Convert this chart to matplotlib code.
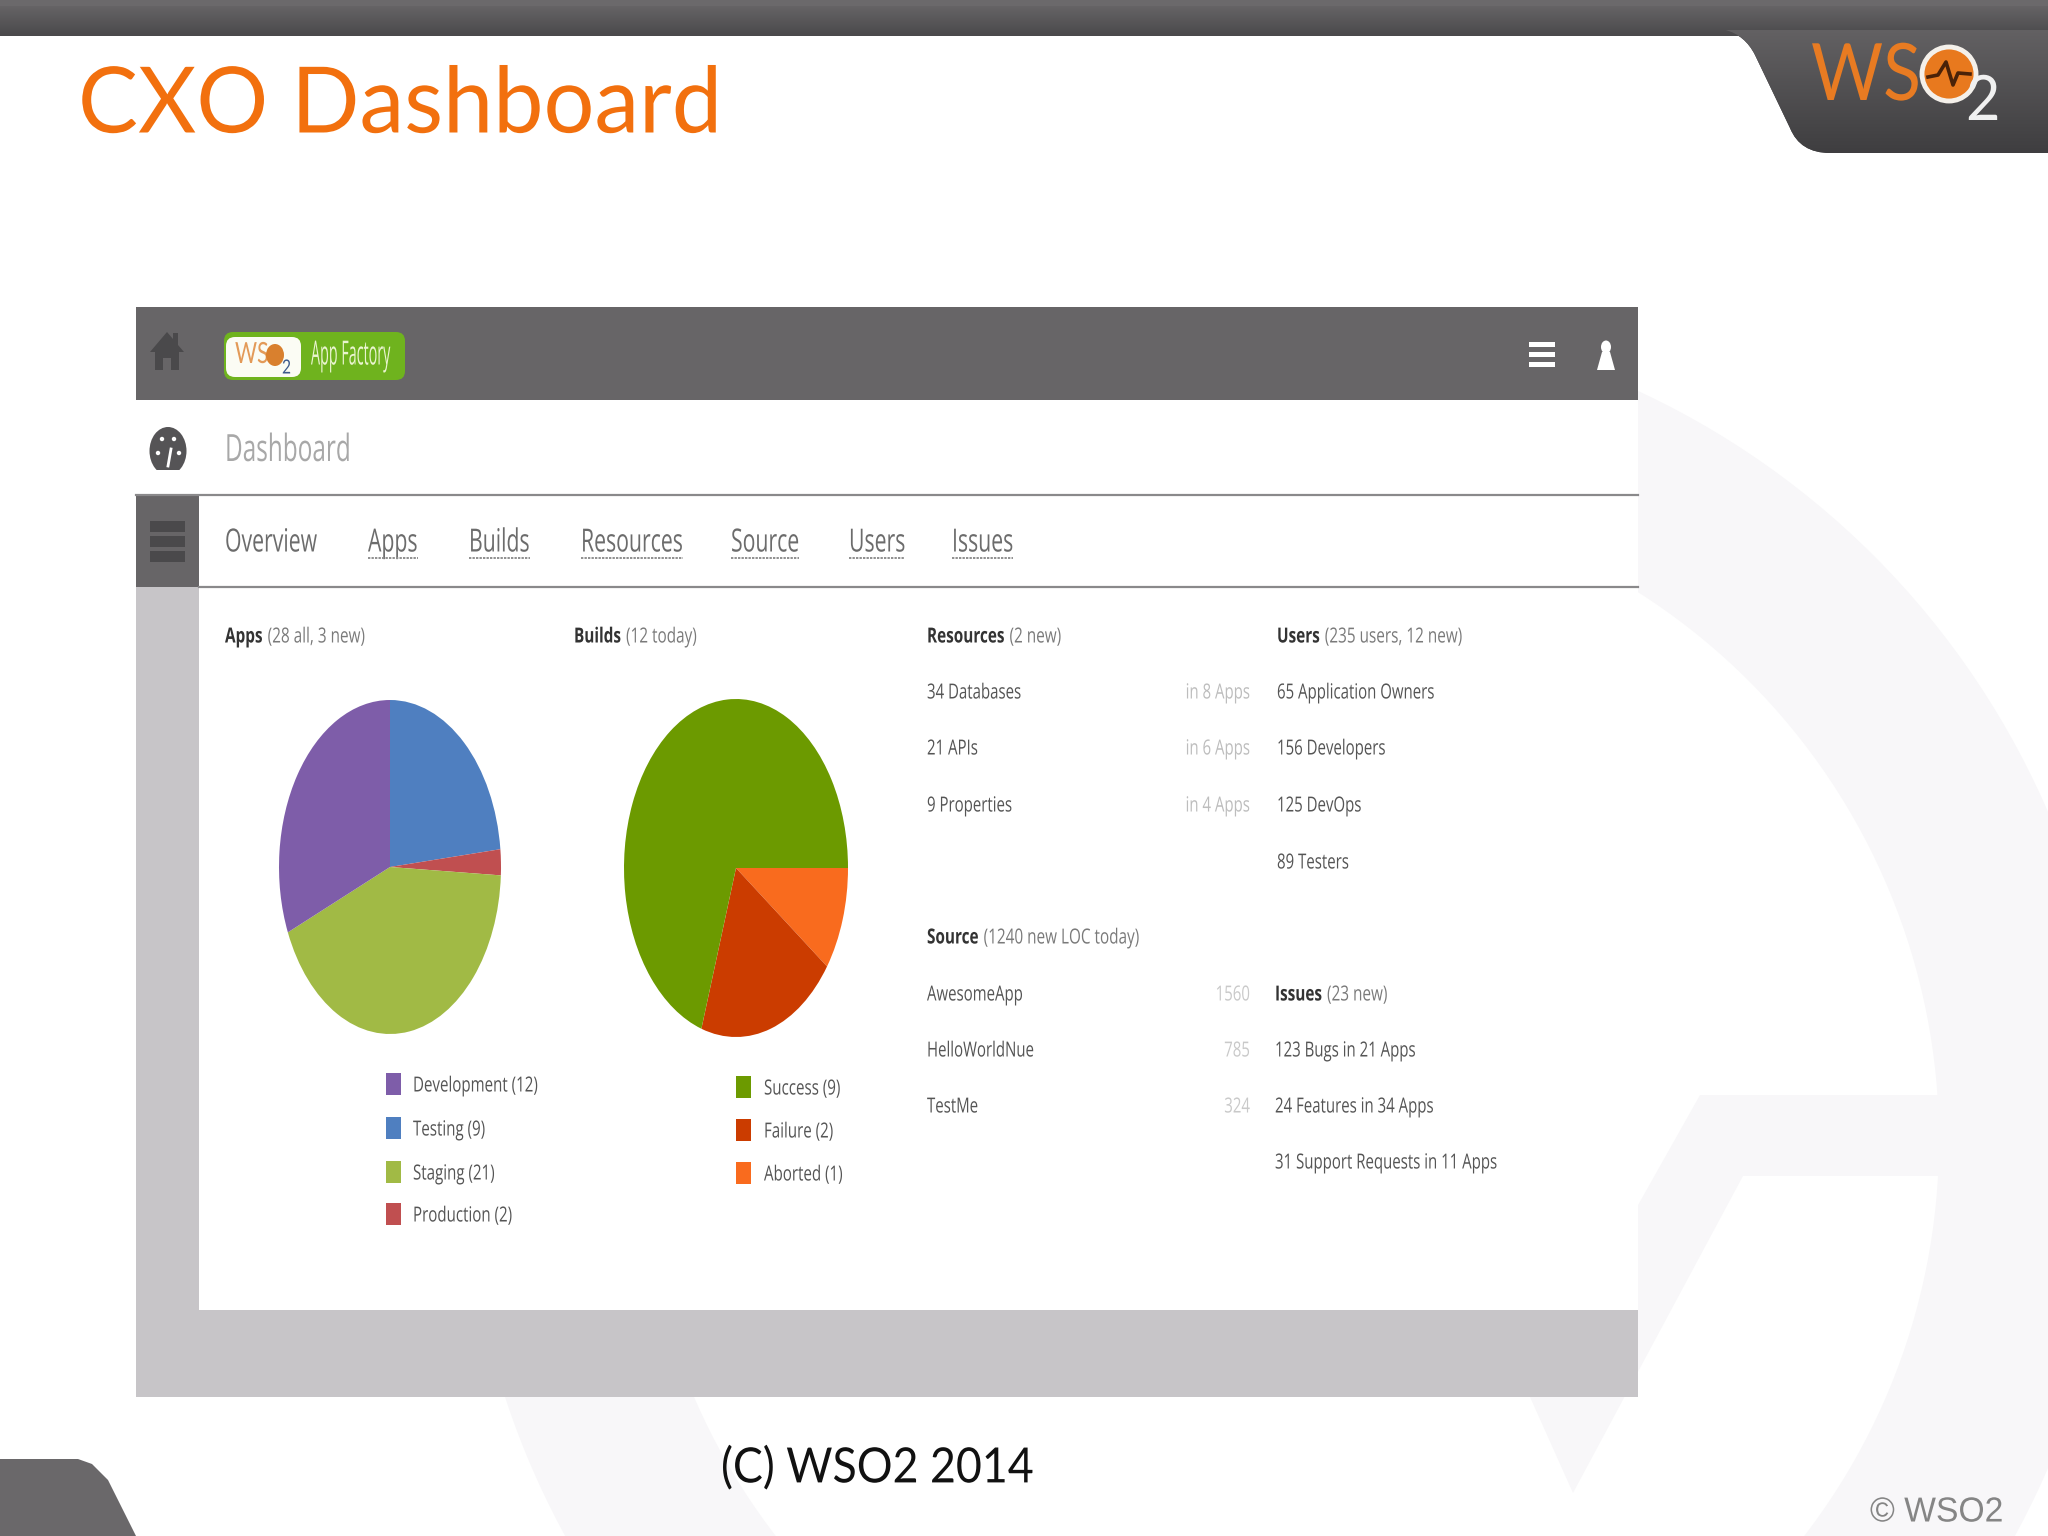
"""
CXO Dashboard - slajd WSO2 z dwoma wykresami kolowymi.
"""

import matplotlib
matplotlib.use("Agg")
import matplotlib.pyplot as plt
import matplotlib.patches as mpatches
import matplotlib.patheffects as pe
from matplotlib.path import Path
from matplotlib.transforms import Affine2D
import numpy as np

W, H = 2048, 1536

# Dane (kolejnosc wycinkow zgodnie z ruchem wskazowek)
apps_slices = ["Testing", "Production", "Staging", "Development"]
apps_values = [23.3, 2.5, 42.8, 31.4]
apps_colors = ["#4F7FC0", "#C04F50", "#A1BA45", "#7E5DA9"]

builds_slices = ["Aborted", "Failure", "Success"]
builds_values = [9.9, 20.1, 70.0]
builds_colors = ["#F96B1E", "#CB3C00", "#6C9A00"]

apps_legend = ["Development (12)", "Testing (9)", "Staging (21)", "Production (2)"]
apps_legend_colors = ["#7E5DA9", "#4F7FC0", "#A1BA45", "#C04F50"]
builds_legend = ["Success (9)", "Failure (2)", "Aborted (1)"]
builds_legend_colors = ["#6C9A00", "#CB3C00", "#F96B1E"]

nav_items = ["Overview", "Apps", "Builds", "Resources", "Source", "Users", "Issues"]
resources_rows = ["34 Databases", "21 APIs", "9 Properties"]
resources_apps = ["in 8 Apps", "in 6 Apps", "in 4 Apps"]
users_rows = ["65 Application Owners", "156 Developers", "125 DevOps", "89 Testers"]
source_rows = ["AwesomeApp", "HelloWorldNue", "TestMe"]
source_loc = ["1560", "785", "324"]
issues_rows = ["123 Bugs in 21 Apps", "24 Features in 34 Apps", "31 Support Requests in 11 Apps"]

FONT = "Open Sans"
TEXT = "#555555"
PANEL_DARK = "#676567"
PANEL_LIGHT = "#C7C5C8"
WATERMARK = "#F8F7F9"

fig = plt.figure(figsize=(W / 100, H / 100), dpi=100, facecolor="white")
ax = fig.add_axes([0, 0, 1, 1])
ax.set_xlim(0, W)
ax.set_ylim(H, 0)
ax.axis("off")
renderer = fig.canvas.get_renderer()


class Squeeze(pe.AbstractPathEffect):
    # Zrzut ekranu jest sciesniony w poziomie, wiec tekst tez
    def __init__(self, sx, x0):
        super().__init__()
        self.sx = sx
        self.x0 = x0

    def draw_path(self, renderer, gc, tpath, affine, rgbFace=None):
        squeeze = Affine2D().translate(-self.x0, 0).scale(self.sx, 1).translate(self.x0, 0)
        renderer.draw_path(gc, tpath, affine + squeeze, rgbFace)


def rect(x0, y0, x1, y1, color, zorder=2):
    ax.add_patch(mpatches.Rectangle((x0, y0), x1 - x0, y1 - y0, facecolor=color,
                                    edgecolor="none", zorder=zorder))


def label(x, y, s, size=15, color=TEXT, ha="left", weight="normal", family=FONT, sx=0.72, zorder=5):
    t = ax.text(x, y, s, fontsize=size, color=color, ha=ha, va="center",
                fontweight=weight, family=family, zorder=zorder)
    t.set_path_effects([Squeeze(sx, x)])
    return t


def width_of(t):
    return t.get_window_extent(renderer).width


def header(x, y, bold, rest, size=15, sx=0.735):
    # pogrubiona czesc kotwiczona z prawej, zeby prostokaty tekstow sie nie nakladaly
    probe = label(0, 0, bold, size=size, weight="bold", color="#333333")
    w = width_of(probe) * sx
    probe.remove()
    label(x + w, y, bold, size=size, weight="bold", color="#333333", ha="right", sx=sx)
    label(x + w + 5, y, rest, size=size, color="#7A7A7A", sx=sx)


def gradient(x0, x1, y0, y1, top, bottom, zorder=1):
    img = np.linspace(0, 1, 64).reshape(-1, 1)
    cmap = matplotlib.colors.LinearSegmentedColormap.from_list("g", [top, bottom])
    im = ax.imshow(img, extent=(x0, x1, y1, y0), cmap=cmap, aspect="auto", zorder=zorder)
    ax.set_xlim(0, W)
    ax.set_ylim(H, 0)
    return im


# Znak wodny w tle
ax.add_patch(mpatches.Wedge((1290, 1140), 826, 0, 360, width=177, facecolor=WATERMARK,
                            edgecolor="none", zorder=0))
ax.add_patch(mpatches.Polygon([(1700, 1095), (1945, 1095), (1945, 1176), (1743, 1176), (1573, 1493),
                               (1530, 1397)], facecolor=WATERMARK, edgecolor="none", zorder=0))

# Gorny pasek i naroznik z logo
gradient(0, W, 0, 36, "#6B696B", "#4A494B")
corner = mpatches.PathPatch(Path(
    [(1725, 30), (1745, 35), (1755, 55), (1790, 128), (1800, 153), (1830, 153), (W, 153), (W, 30), (1725, 30)],
    [Path.MOVETO, Path.CURVE3, Path.CURVE3, Path.LINETO, Path.CURVE3, Path.CURVE3, Path.LINETO, Path.LINETO,
     Path.CLOSEPOLY]), facecolor="#434244", edgecolor="none", zorder=1)
ax.add_patch(corner)
gradient(1700, W, 0, 153, "#6B696B", "#3F3E40", zorder=1.1).set_clip_path(corner)
rect(0, 0, W, 6, "#6B696B", zorder=1.2)

# Lewy dolny naroznik
ax.add_patch(mpatches.Polygon([(0, 1459), (78, 1459), (92, 1464), (108, 1480), (136, 1536), (0, 1536)],
                              facecolor="#6A686A", edgecolor="none", zorder=1))

label(78, 107, "CXO Dashboard", size=66, color="#F2700E", family="Lato", sx=0.98)
label(721, 1468, "(C) WSO2 2014", size=35, color="#111111", family="Lato", sx=0.92)
label(1870, 1512, "\u00a9 WSO2", size=25, color="#858585", family="Liberation Sans", sx=0.97)

# Logo WSO2
label(1811, 78, "WS", size=57, color="#E87B22", family="Lato", sx=0.88)
ax.add_patch(mpatches.Circle((1949, 74), 27, facecolor="#E8791E", edgecolor="#F4F0EA", linewidth=3.5, zorder=5))
label(1966, 102, "2", size=45, color="#F0F0F0", family="Lato", sx=0.95)
ax.plot([1928, 1938, 1946, 1953, 1958, 1970], [77, 75, 62, 85, 73, 74], color="#4A2208", lw=2.6, zorder=6)

# Panel dashboardu
rect(136, 307, 1638, 1397, PANEL_LIGHT)
rect(136, 307, 1638, 400, PANEL_DARK, zorder=3)
rect(136, 400, 1638, 495, "white", zorder=3)
rect(136, 495, 199, 587, PANEL_DARK, zorder=3)
rect(199, 495, 1638, 587, "white", zorder=3)
rect(199, 587, 1638, 1310, "white", zorder=3)
ax.plot([136, 1638], [495, 495], color="#8A898B", lw=1.6, zorder=4)
ax.plot([199, 1638], [587, 587], color="#8A898B", lw=1.6, zorder=4)

# Ikony
ax.add_patch(mpatches.Polygon([(150, 352), (167, 332), (173, 339), (173, 333), (178, 333), (178, 345),
                               (184, 352), (179, 352), (179, 370), (171, 370), (171, 358), (163, 358),
                               (163, 370), (155, 370), (155, 352)],
                              facecolor="#4A494B", edgecolor="none", zorder=5))
ax.add_patch(mpatches.Ellipse((168, 451), 37, 48, facecolor="#555456", edgecolor="none", zorder=5))
rect(148, 470, 188, 478, "white", zorder=5.1)
ax.plot([168, 171], [466, 449], color="white", lw=2, zorder=6)
for gx, gy in [(158, 453), (162, 439), (174, 439), (179, 453)]:
    ax.add_patch(mpatches.Circle((gx, gy), 2.2, facecolor="white", edgecolor="none", zorder=6))
for sy in [521, 536, 551]:
    rect(150, sy, 185, sy + 11, "#4A494B", zorder=5)
for by in [344, 354, 364]:
    rect(1529, by - 2.5, 1555, by + 2.5, "white", zorder=5)
ax.add_patch(mpatches.Ellipse((1606, 347), 10, 13, facecolor="white", edgecolor="none", zorder=5))
ax.add_patch(mpatches.Polygon([(1602, 352), (1610, 352), (1615, 370), (1597, 370)], facecolor="white",
                              edgecolor="none", zorder=5))

# Male logo App Factory
ax.add_patch(mpatches.FancyBboxPatch((224, 332), 181, 48, boxstyle="round,pad=0,rounding_size=9",
                                     facecolor="#6FB31E", edgecolor="none", zorder=5))
ax.add_patch(mpatches.FancyBboxPatch((226, 337), 75, 40, boxstyle="round,pad=0,rounding_size=9",
                                     facecolor="#FBFCF4", edgecolor="none", zorder=6))
label(235, 355, "WS", size=21, color="#E39A58", family="Lato", sx=0.73, zorder=7)
ax.add_patch(mpatches.Ellipse((275, 355), 18, 22, facecolor="#D9802E", edgecolor="none", zorder=7))
label(282, 368, "2", size=14, color="#3E5A8C", family="Lato", sx=0.8, zorder=7)
label(311, 356, "App Factory", size=24, color="#EAF4D0", sx=0.43, zorder=7)

# Tekst i nawigacja
label(225, 451, "Dashboard", size=27, color="#A8A8A8", sx=0.65)
nav_x = [225, 368, 469, 581, 731, 849, 952]
NAV_SX = 0.665
for i, (x, name) in enumerate(zip(nav_x, nav_items)):
    t = label(x, 543, name, size=23, color="#6C6C6C", sx=NAV_SX)
    if i > 0:
        x1 = x + width_of(t) * NAV_SX
        ax.plot([x, x1], [558, 558], color="#8F8F8F", lw=1.4, ls=(0, (1.2, 0.6)), zorder=5)

header(225, 637, "Apps", "(28 all, 3 new)")
header(574, 637, "Builds", "(12 today)")
header(927, 637, "Resources", "(2 new)")
header(1277, 637, "Users", "(235 users, 12 new)")
header(927, 938, "Source", "(1240 new LOC today)")
header(1275, 995, "Issues", "(23 new)")

rows_top = [693, 749, 806, 863]
rows_low = [995, 1051, 1107, 1163]
for y, a, b in zip(rows_top, resources_rows, resources_apps):
    label(927, y, a)
    label(1250, y, b, color="#BDBDBD", ha="right")
for y, a in zip(rows_top, users_rows):
    label(1277, y, a)
for y, a, b in zip(rows_low, source_rows, source_loc):
    label(927, y, a)
    label(1250, y, b, color="#C9C9C9", ha="right")
for y, a in zip(rows_low[1:], issues_rows):
    label(1275, y, a)


# Wykresy kolowe (osie rozciagniete do elipsy jak na zrzucie)
def pie_axes(cx, cy, rx, ry):
    return fig.add_axes([(cx - rx) / W, 1 - (cy + ry) / H, 2 * rx / W, 2 * ry / H])


pie1 = pie_axes(390, 867, 111, 167)
pie1.pie(apps_values, colors=apps_colors, startangle=90, counterclock=False, radius=1,
         wedgeprops={"linewidth": 0})
pie1.set_aspect("auto")
pie1.set_xlim(-1, 1)
pie1.set_ylim(-1, 1)

pie2 = pie_axes(736, 868, 112, 169)
pie2.pie(builds_values, colors=builds_colors, startangle=0, counterclock=False, radius=1,
         wedgeprops={"linewidth": 0})
pie2.set_aspect("auto")
pie2.set_xlim(-1, 1)
pie2.set_ylim(-1, 1)

# Legendy
for y, name, color in zip([1084, 1128, 1172, 1214], apps_legend, apps_legend_colors):
    rect(386, y - 11, 401, y + 11, color, zorder=5)
    label(413, y + 2, name, size=15, sx=0.725)
for y, name, color in zip([1087, 1130, 1173], builds_legend, builds_legend_colors):
    rect(736, y - 11, 751, y + 11, color, zorder=5)
    label(764, y + 2, name, size=15, sx=0.725)

fig.savefig("out.png", dpi=100, facecolor="white")
